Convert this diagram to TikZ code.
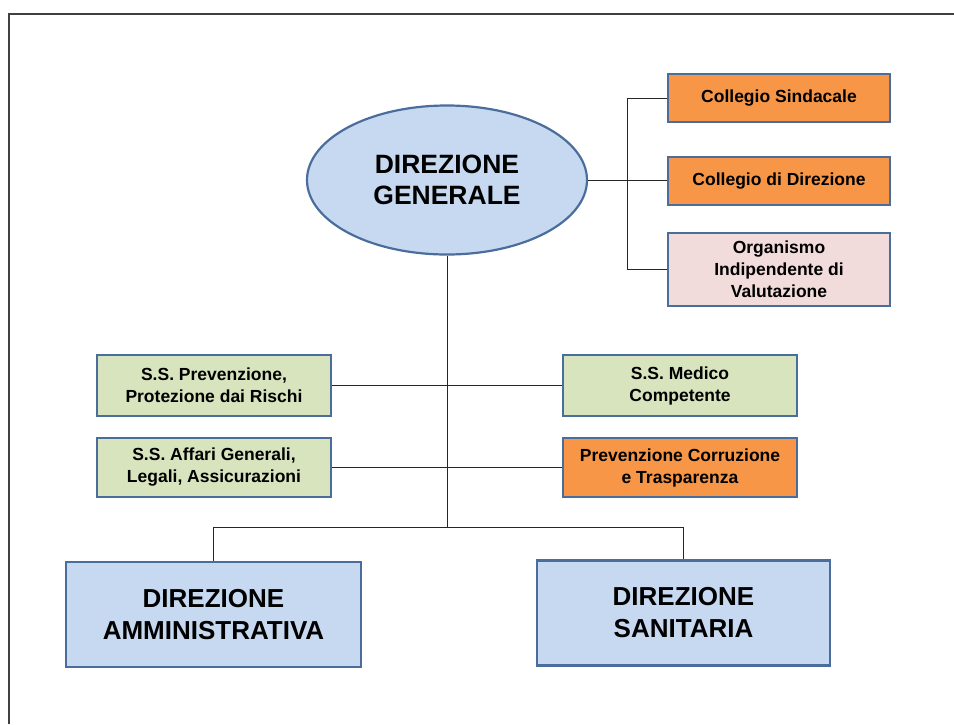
\documentclass[tikz,border=0pt]{standalone}
\usepackage{fontspec}
\setmainfont{Liberation Sans}
\usetikzlibrary{shapes.geometric}
\definecolor{bluefill}{HTML}{C6D9F1}
\definecolor{edgeblue}{HTML}{4A6D9B}
\definecolor{orangefill}{HTML}{F79646}
\definecolor{greenfill}{HTML}{D7E4BD}
\definecolor{pinkfill}{HTML}{F2DCDB}
\begin{document}
\begin{tikzpicture}[x=1pt,y=-1pt,
  box/.style={draw=edgeblue, line width=2.2pt, rectangle, inner sep=0pt, align=center,
    font=\bfseries\fontsize{17.5}{22}\selectfont},
  bigbox/.style={box, font=\bfseries\fontsize{26}{32}\selectfont, fill=bluefill},
  conn/.style={draw=black!85, line width=1pt}]
\useasboundingbox (0,0) rectangle (954,724);
\draw[line width=1.5pt, black!75] (9,724) -- (9,14) -- (954,14);

\node[ellipse, draw=edgeblue, line width=2.2pt, fill=bluefill, inner sep=0pt,
  minimum width=280, minimum height=149, align=center,
  font=\bfseries\fontsize{26.5}{31}\selectfont] (dg) at (447,180) {DIREZIONE\\GENERALE};

\node[box, fill=orangefill, minimum width=222, minimum height=48] (cs) at (779,98) {Collegio Sindacale};
\node[box, fill=orangefill, minimum width=222, minimum height=48] (cd) at (779,181) {Collegio di Direzione};
\node[box, fill=pinkfill, minimum width=222, minimum height=73] (oiv) at (779,269.5) {Organismo\\Indipendente di\\Valutazione};

\node[box, fill=greenfill, minimum width=234, minimum height=61] (ssp) at (214,385.5) {S.S. Prevenzione,\\Protezione dai Rischi};
\node[box, fill=greenfill, minimum width=234, minimum height=59] (ssa) at (214,467.5) {S.S. Affari Generali,\\Legali, Assicurazioni};
\node[box, fill=greenfill, minimum width=234, minimum height=61] (ssm) at (680,385.5) {S.S. Medico\\Competente};
\node[box, fill=orangefill, minimum width=234, minimum height=59] (pct) at (680,467.5) {Prevenzione Corruzione\\e Trasparenza};

\node[bigbox, minimum width=295, minimum height=105] (da) at (213.5,614.5) {DIREZIONE\\AMMINISTRATIVA};
\node[bigbox, minimum width=293, minimum height=105] (ds) at (683.5,613) {DIREZIONE\\SANITARIA};

\coordinate (bar) at (447,527);
\coordinate (brk) at (627,98);

\draw[conn] (dg.south) -- (bar);
\draw[conn] (ssp.east) -- (ssm.west);
\draw[conn] (ssa.east) -- (pct.west);
\draw[conn] (bar) -| (da.north);
\draw[conn] (bar) -| (ds.north);
\draw[conn] (dg.east) -- (dg.east -| cd.west);
\draw[conn] (cs.west) -- (brk) |- (oiv.west);
\end{tikzpicture}
\end{document}
